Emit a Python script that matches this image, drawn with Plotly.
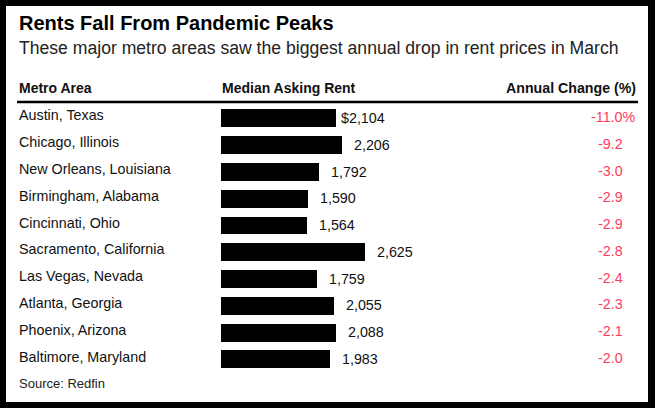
import plotly.graph_objects as go

# data
metros = [
    "Austin, Texas", "Chicago, Illinois", "New Orleans, Louisiana",
    "Birmingham, Alabama", "Cincinnati, Ohio", "Sacramento, California",
    "Las Vegas, Nevada", "Atlanta, Georgia", "Phoenix, Arizona",
    "Baltimore, Maryland",
]
rent = [2104, 2206, 1792, 1590, 1564, 2625, 1759, 2055, 2088, 1983]
change = [-11.0, -9.2, -3.0, -2.9, -2.9, -2.8, -2.4, -2.3, -2.1, -2.0]

W, H = 655, 408
FONT = "Liberation Sans"
RED = "#ff3b5c"


def px(x):
    return x / W


def py(y):
    return 1 - y / H


fig = go.Figure(go.Bar(
    x=rent,
    y=metros,
    orientation="h",
    width=0.67,
    marker=dict(color="black", line=dict(width=0)),
    hoverinfo="skip",
))

ann = []


def text(x, y, s, size, color="#111", bold=False, anchor="left"):
    ann.append(dict(
        x=px(x), y=py(y), xref="paper", yref="paper", text=f"<b>{s}</b>" if bold else s,
        showarrow=False, xanchor=anchor, yanchor="middle",
        font=dict(family=FONT, size=size, color=color),
    ))


text(17, 23, "Rents Fall From Pandemic Peaks", 20, "#000", bold=True)
text(17, 48, "These major metro areas saw the biggest annual drop in rent prices in March", 17.6, "#222")
text(17, 88, "Metro Area", 14, "#111", bold=True)
text(220, 88, "Median Asking Rent", 14, "#111", bold=True)
text(638, 88, "Annual Change (%)", 14.2, "#111", bold=True, anchor="right")
text(17, 383, "Source: Redfin", 13, "#222")

for i, (m, r, c) in enumerate(zip(metros, rent, change)):
    # metro name
    ann.append(dict(
        x=px(17), y=m, xref="paper", yref="y", text=m, showarrow=False,
        xanchor="left", yanchor="middle", yshift=2.5,
        font=dict(family=FONT, size=14.3, color="#111"),
    ))
    # rent value next to bar
    ann.append(dict(
        x=r, y=m, xref="x", yref="y",
        text=f"${r:,}" if i == 0 else f"{r:,}", showarrow=False,
        xanchor="left", yanchor="middle", xshift=3 if i == 0 else 10,
        font=dict(family=FONT, size=14.3, color="#111"),
    ))
    # annual change
    ann.append(dict(
        x=px(638 if i == 0 else 625), y=m, xref="paper", yref="y",
        text=f"{c:.1f}%" if i == 0 else f"{c:.1f}", showarrow=False,
        xanchor="right", yanchor="middle", yshift=1,
        font=dict(family=FONT, size=14.3, color=RED),
    ))

row_top, row_bot = 118 - 13.4, 359 + 13.4

fig.update_layout(
    width=W, height=H,
    margin=dict(l=0, r=0, t=0, b=0),
    paper_bgcolor="black",
    plot_bgcolor="rgba(0,0,0,0)",
    showlegend=False,
    bargap=0,
    xaxis=dict(
        domain=[px(221), 1], range=[0, (W - 221) / ((365 - 221) / 2625)],
        visible=False, fixedrange=True,
    ),
    yaxis=dict(
        domain=[py(row_bot), py(row_top)], range=[9.5, -0.5],
        visible=False, fixedrange=True,
    ),
    annotations=ann,
    shapes=[
        dict(type="rect", xref="paper", yref="paper", layer="below",
             x0=px(6), x1=px(648), y0=py(402), y1=py(6),
             fillcolor="white", line=dict(width=0)),
        dict(type="line", xref="paper", yref="paper",
             x0=px(17), x1=px(638), y0=py(102), y1=py(102),
             line=dict(color="black", width=2.5)),
    ],
)

fig.write_html(
    "out.html",
    config={"displayModeBar": False},
    post_script="document.body.style.margin='0';document.body.style.overflow='hidden';",
)
